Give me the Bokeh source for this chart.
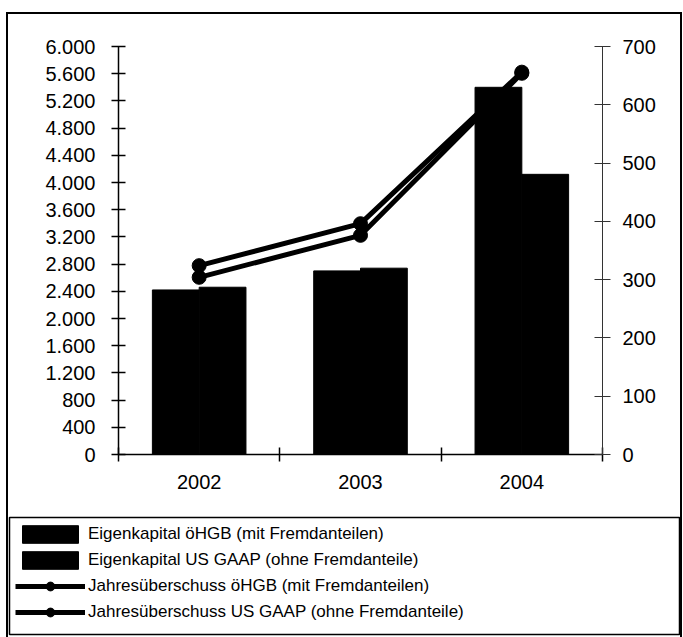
import numpy as np
from bokeh.plotting import figure
from bokeh.layouts import column
from bokeh.models import (Range1d, LinearAxis, FixedTicker, Legend, LegendItem)
from bokeh.embed import file_html
from bokeh.resources import INLINE

# ---------------- data ----------------
years = ["2002", "2003", "2004"]
ek_hgb = [2420, 2700, 5400]        # Eigenkapital öHGB (mit Fremdanteilen)
ek_usgaap = [2460, 2740, 4120]     # Eigenkapital US GAAP (ohne Fremdanteile)
jue_hgb = [324, 396, 656]          # Jahresüberschuss öHGB (mit Fremdanteilen)
jue_usgaap = [304, 376, 654]       # Jahresüberschuss US GAAP (ohne Fremdanteile)

left_ticks = [0, 400, 800, 1200, 1600, 2000, 2400, 2800, 3200, 3600, 4000,
              4400, 4800, 5200, 5600, 6000]
left_tick_labels = ["0", "400", "800", "1.200", "1.600", "2.000", "2.400",
                    "2.800", "3.200", "3.600", "4.000", "4.400", "4.800",
                    "5.200", "5.600", "6.000"]
right_ticks = [0, 100, 200, 300, 400, 500, 600, 700]
right_tick_labels = ["0", "100", "200", "300", "400", "500", "600", "700"]

series_labels = [
    "Eigenkapital öHGB (mit Fremdanteilen)",
    "Eigenkapital US GAAP (ohne Fremdanteile)",
    "Jahresüberschuss öHGB (mit Fremdanteilen)",
    "Jahresüberschuss US GAAP (ohne Fremdanteile)",
]

# ---------------- chart figure ----------------
FONT = "Liberation Sans"
n = len(years)
x_center = np.arange(n) + 0.5
bar_w = 0.29


def draw_series(fig):
    r_b1 = fig.vbar(x=x_center - bar_w / 2, top=ek_hgb, width=bar_w,
                    fill_color="black", line_color="black")
    r_b2 = fig.vbar(x=x_center + bar_w / 2, top=ek_usgaap, width=bar_w,
                    fill_color="black", line_color="black")
    r_l1 = fig.line(x_center, jue_hgb, y_range_name="right", line_width=5,
                    line_color="black")
    r_s1 = fig.scatter(x_center, jue_hgb, y_range_name="right", size=14,
                       fill_color="black", line_color="black")
    r_l2 = fig.line(x_center, jue_usgaap, y_range_name="right", line_width=5,
                    line_color="black")
    r_s2 = fig.scatter(x_center, jue_usgaap, y_range_name="right", size=14,
                       fill_color="black", line_color="black")
    return r_b1, r_b2, r_l1, r_s1, r_l2, r_s2


p = figure(width=672, height=486, output_backend="svg", toolbar_location=None,
           x_range=Range1d(0, n), y_range=Range1d(0, 6000),
           x_axis_type=None, y_axis_type=None,
           min_border_left=110, min_border_right=78,
           min_border_top=32, min_border_bottom=46)
p.extra_y_ranges = {"right": Range1d(0, 700)}
p.outline_line_color = None
p.background_fill_color = "white"
p.border_fill_color = "white"
p.frame_align = False

yax = LinearAxis(ticker=FixedTicker(ticks=left_ticks),
                 major_label_overrides=dict(zip(left_ticks, left_tick_labels)))
yax.major_tick_in = 7
yax.major_tick_out = 7
yax.major_label_standoff = 16
yax.axis_line_width = 1.5
yax.major_tick_line_width = 1.5
yax.axis_line_color = "black"
yax.major_tick_line_color = "black"
yax.major_label_text_font = FONT
yax.major_label_text_font_size = "20px"
yax.major_label_text_color = "black"
p.add_layout(yax, "left")

rax = LinearAxis(y_range_name="right", ticker=FixedTicker(ticks=right_ticks),
                 major_label_overrides=dict(zip(right_ticks, right_tick_labels)))
rax.major_tick_in = 8
rax.major_tick_out = 8
rax.major_label_standoff = 12
rax.axis_line_width = 1
rax.major_tick_line_width = 1
rax.axis_line_color = "#333333"
rax.major_tick_line_color = "#333333"
rax.major_label_text_font = FONT
rax.major_label_text_font_size = "20px"
rax.major_label_text_color = "black"
p.add_layout(rax, "right")

xax = LinearAxis(ticker=FixedTicker(ticks=list(x_center),
                                    minor_ticks=list(range(n + 1))),
                 major_label_overrides={float(c): y for c, y in zip(x_center, years)})
xax.major_tick_in = 0
xax.major_tick_out = 0
xax.minor_tick_in = 7
xax.minor_tick_out = 7
xax.minor_tick_line_color = "black"
xax.minor_tick_line_width = 1.5
xax.axis_line_width = 1.5
xax.axis_line_color = "black"
xax.major_label_standoff = 13
xax.major_label_text_font = FONT
xax.major_label_text_font_size = "20px"
xax.major_label_text_color = "black"
p.add_layout(xax, "below")

draw_series(p)

# ---------------- legend figure (its frame outline = legend box) ----------------
# same series drawn again, but outside the visible ranges: only their legend
# glyphs show up here.
lf = figure(width=672, height=137, output_backend="svg", toolbar_location=None,
            x_range=Range1d(-2, -1), y_range=Range1d(-2, -1),
            x_axis_type=None, y_axis_type=None,
            min_border_left=1, min_border_right=0,
            min_border_top=17, min_border_bottom=3)
lf.extra_y_ranges = {"right": Range1d(-2, -1)}
lf.outline_line_color = "black"
lf.outline_line_width = 1.5
lf.background_fill_color = "white"
lf.border_fill_color = "white"
lf.frame_align = False

lb1, lb2, ll1, ls1, ll2, ls2 = draw_series(lf)

legend = Legend(items=[
    LegendItem(label=series_labels[0], renderers=[lb1]),
    LegendItem(label=series_labels[1], renderers=[lb2]),
    LegendItem(label=series_labels[2], renderers=[ll1, ls1]),
    LegendItem(label=series_labels[3], renderers=[ll2, ls2]),
], location="top_left")
legend.border_line_color = None
legend.background_fill_alpha = 0
legend.glyph_width = 70
legend.glyph_height = 22
legend.label_height = 22
legend.spacing = 4
legend.padding = 5
legend.margin = 6
legend.label_standoff = 3
legend.label_text_font = FONT
legend.label_text_font_size = "17px"
legend.label_text_color = "black"
lf.add_layout(legend)

layout = column(p, lf, spacing=0, margin=(12, 0, 0, 6),
                styles={"border-top": "2px solid black",
                        "border-left": "2px solid black",
                        "border-right": "2px solid black"})

open("out.html", "w").write(file_html(layout, INLINE))
